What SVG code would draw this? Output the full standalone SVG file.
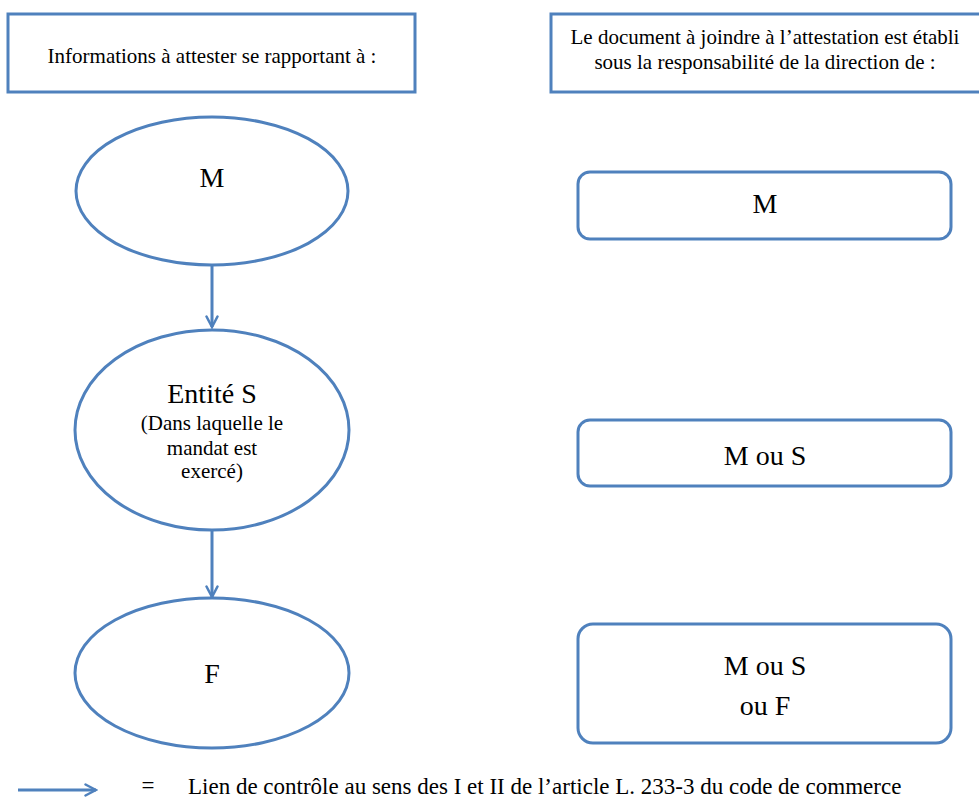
<svg xmlns="http://www.w3.org/2000/svg" width="979" height="800" viewBox="0 0 979 800">
<style>
.s{fill:#fff;stroke:#4F81BD;stroke-width:3}
.t{font-family:"Liberation Serif",serif;fill:#000;text-anchor:middle}
.h{font-size:21px}
.b{font-size:28px}
.c{stroke:#4F81BD;stroke-width:3;fill:none}
</style>
<defs>
<marker id="a" viewBox="0 0 14 14" refX="12" refY="7" markerWidth="14" markerHeight="14" markerUnits="userSpaceOnUse" orient="auto">
<path d="M1.5,1.5 L12,7 L1.5,12.5" fill="none" stroke="#4F81BD" stroke-width="2.5" stroke-linecap="round"/>
</marker>
</defs>
<rect width="979" height="800" fill="#fff"/>
<g id="h1"><rect class="s" x="8" y="14" width="407" height="78"/><text class="t h" x="212" y="63">Informations à attester se rapportant à :</text></g>
<g id="h2"><rect class="s" x="551" y="14" width="440" height="78"/><text class="t h" x="765" y="44">Le document à joindre à l’attestation est établi</text><text class="t h" x="765" y="69">sous la responsabilité de la direction de :</text></g>
<g id="eM"><ellipse class="s" cx="212" cy="191" rx="136" ry="74"/><text class="t b" x="212" y="187">M</text></g>
<g id="eS"><ellipse class="s" cx="212" cy="430" rx="137" ry="100"/><text class="t b" x="212" y="403">Entité S</text><text class="t h" x="212" y="430">(Dans laquelle le</text><text class="t h" x="212" y="455">mandat est</text><text class="t h" x="212" y="478">exercé)</text></g>
<g id="eF"><ellipse class="s" cx="212" cy="673" rx="137" ry="75"/><text class="t b" x="212" y="683">F</text></g>
<g id="bM"><rect class="s" x="578" y="172" width="373" height="67" rx="12"/><text class="t b" x="765" y="213">M</text></g>
<g id="bMS"><rect class="s" x="578" y="420" width="373" height="66" rx="12"/><text class="t b" x="765" y="465">M ou S</text></g>
<g id="bMSF"><rect class="s" x="578" y="624" width="373" height="119" rx="15"/><text class="t b" x="765" y="675">M ou S</text><text class="t b" x="765" y="715">ou F</text></g>
<g id="connectors">
<line class="c" x1="18" y1="790" x2="96" y2="790" marker-end="url(#a)"/>
<line class="c" x1="212" y1="265" x2="212" y2="327" marker-end="url(#a)"/>
<line class="c" x1="212" y1="530" x2="212" y2="597" marker-end="url(#a)"/>
</g>
<g id="legend"><text class="t" x="148" y="793" font-size="23">=</text><text x="188" y="794" font-size="23" font-family="Liberation Serif,serif">Lien de contrôle au sens des I et II de l’article L. 233-3 du code de commerce</text></g>
</svg>
